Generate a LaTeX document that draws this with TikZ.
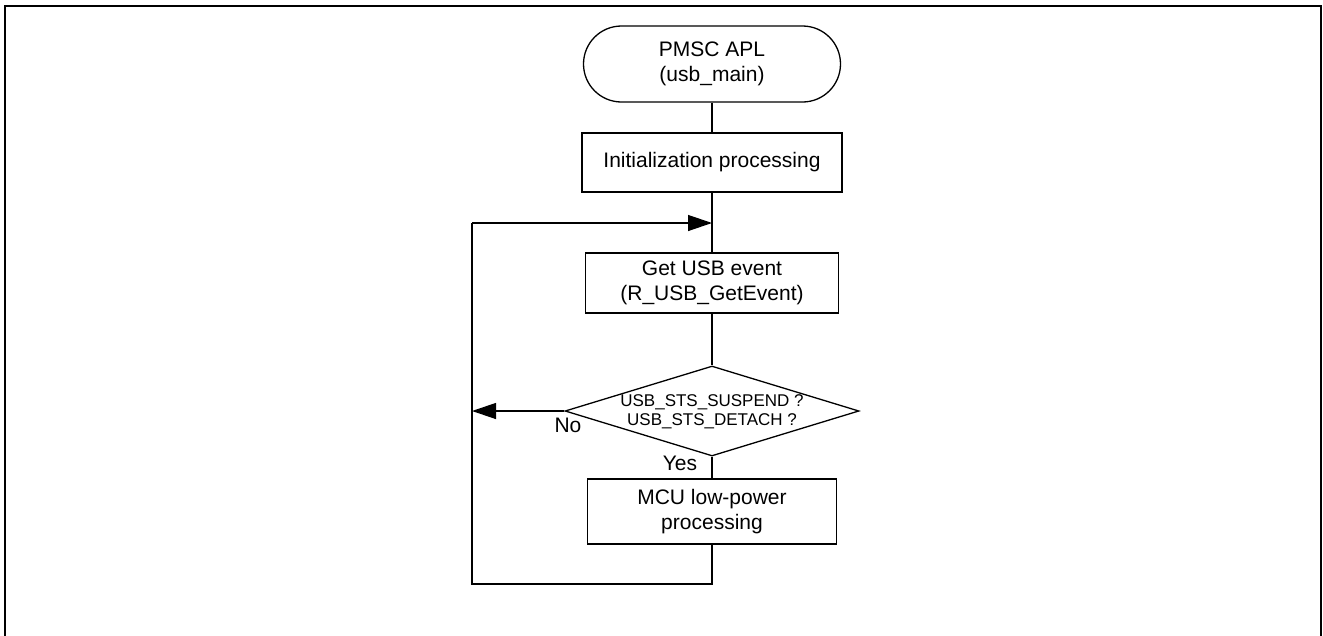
\documentclass[tikz,border=0pt]{standalone}
\usepackage{fontspec}
\setmainfont{Liberation Sans}
\usetikzlibrary{shapes.geometric,arrows.meta}
\tikzset{
  box/.style={draw, line width=1.3pt, inner sep=0pt, align=center, font=\fontsize{21}{25}\selectfont},
  term/.style={box, rounded corners=38pt},
  decision/.style={draw, diamond, line width=1.3pt, inner sep=0pt, minimum width=294pt, minimum height=90pt},
  dtext/.style={align=center, inner sep=0pt, font=\fontsize{17}{19}\selectfont},
  lbl/.style={inner sep=0pt, font=\fontsize{21}{25}\selectfont},
  conn/.style={line width=1.3pt},
  arr/.style={conn, -{Triangle[length=24pt,width=16pt]}},
  frame/.style={line width=2pt}
}
\begin{document}
\begin{tikzpicture}[x=1pt,y=-1pt]
\useasboundingbox (0,0) rectangle (1323,635);
\draw[frame] (5,640) -- (5,6) -- (1321,6) -- (1321,640);

\node[term, minimum width=257pt, minimum height=76pt] (start) at (712,64) {PMSC APL\\(usb\_main)};
\node[box, minimum width=260pt, minimum height=59pt] (init) at (712,162.5) {Initialization processing};
\coordinate (merge) at (712,223);
\node[box, minimum width=253pt, minimum height=60pt] (get) at (712,283) {Get USB event\\(R\_USB\_GetEvent)};
\node[decision] (dia) at (712,411) {};
\node[dtext] (dtxt) at (712,412) {USB\_STS\_SUSPEND ?\\USB\_STS\_DETACH ?};
\node[box, minimum width=249pt, minimum height=65pt] (mcu) at (712,511.5) {MCU low-power\\processing};
\coordinate (bot) at (712,584);
\coordinate (botl) at (472,584);
\coordinate (topl) at (472,223);
\coordinate (nol) at (472,411);

\draw[conn] (start.south) -- (init.north);
\draw[conn] (init.south) -- (get.north);
\draw[conn] (get.south) -- (dia.north);
\draw[conn] (dia.south) -- (mcu.north);
\draw[conn] (mcu.south) -- (bot) -- (botl) -- (topl);
\draw[arr] (topl) -- (merge);
\draw[arr] (dia.west) -- (nol);

\node[lbl] (no) at (568,425) {No};
\node[lbl] (yes) at (680,463) {Yes};
\end{tikzpicture}
\end{document}
